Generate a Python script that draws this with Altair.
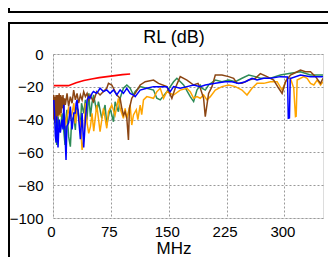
import altair as alt
import pandas as pd

# ---- data (MHz, dB) ----
blue_f = [1, 2, 3, 4, 5, 6.5, 8, 9.5, 11.7, 13, 13.9, 15, 16.9, 18, 20.3, 22.5, 23.5, 24.7, 27, 29,
          30, 31.2, 33, 35.5, 37.7, 39.8, 42, 44.2, 46.3, 48, 50.6, 52.4, 56.7, 61, 65.4, 69.7, 74, 78.4, 82.7, 87,
          91.3, 95.7, 100, 104.3, 106.5, 113, 121.6, 130.3, 139, 147.6, 151.9, 156.3, 164.9, 173.6, 182.3, 190.9,
          197.4, 210.4, 223, 232, 240.7, 249.4, 258, 264.5, 273.2, 281.8, 294.8, 304, 305, 306.5, 307.5, 320.8,
          333.8, 342.4, 350]
blue_db = [-28, -36, -50, -54, -38, -57, -40, -48, -40, -46, -31, -42, -64.6, -44, -42, -32, -40, -46, -36, -36,
           -30, -28, -38, -52, -36, -57, -40, -28, -26, -27, -24, -22.9, -24, -20.9, -22.9, -21.9, -24, -21.9, -25, -21.9,
           -24, -20.9, -24, -25, -26, -22, -20.9, -19.9, -19.9, -19.9, -23, -19.9, -20.9, -19.9, -18.9, -19.9,
           -18.9, -17.9, -16.9, -16.9, -17.9, -16.9, -14.8, -15.9, -14.8, -14.8, -13.8, -14, -39.2, -39, -15, -12.8,
           -13.8, -13.8, -13.8]

brown_f = [0, 0.5, 1, 1.5, 2, 2.5, 3, 3.5, 4, 4.5, 5, 5.5, 6, 6.5, 7, 7.5, 8, 8.5, 9, 9.5,
           10, 10.5, 11, 12, 13, 14, 15, 16, 17, 18.2, 20.3, 22.5, 24.7, 26.8, 29, 31.2, 33.3, 35.5, 37.7, 39.8,
           42, 44.2, 46.3, 48.1, 52.4, 56.7, 61, 65.4, 69.7, 71.9, 76.2, 78.4, 82.7, 87, 89.2, 91.3, 93.5, 95.7, 97.8, 99.1,
           102.1, 106.5, 113, 119.5, 130.3, 136.8, 147.6, 154.1, 158.4, 164.9, 173.6, 182.3, 188, 191, 195.2, 197.4,
           201.7, 206.1, 210.4, 219, 227.7, 234.2, 238.5, 245, 253.7, 262.3, 268.8, 277.5, 286.1, 292.6,
           297, 301.3, 307.8, 316.5, 320.8, 327.3, 333.8, 340.3, 346.8, 350]
brown_db = [-26, -40, -25, -38, -27, -42, -26, -36, -25, -40, -28, -35, -25, -38, -27, -33, -24, -37, -27, -34,
            -25, -36, -26, -33, -25, -35, -27, -31, -28, -24, -32, -26, -30, -22, -28, -24, -30, -25, -28, -23,
            -26, -24, -28, -25, -29.1, -22.9, -25, -22.9, -20.9, -17.9, -18.9, -20.9, -25, -27, -33.1, -37.2, -35.2, -39.2, -52.4, -33.1,
            -27, -24, -18.9, -16.9, -15.9, -17.9, -19.9, -27, -20.9, -13.8, -15.9, -18.9, -17.9, -20.9, -27, -38.2,
            -24, -19.9, -12.8, -12.8, -13.8, -14.8, -17.9, -17.9, -15.9, -14.8, -12, -13.8, -15.9, -20.9,
            -24, -16.9, -12.8, -10.8, -9.8, -10.8, -10.8, -13.8, -17.9, -14.8]

green_f = [0.9, 2, 3.9, 4.8, 6.5, 8, 9.5, 11.7, 13, 15.6, 16.5, 18, 20.3, 22.5, 23.8, 24.7, 27, 29, 30.5, 32.5,
           35.5, 37, 39.8, 42, 44, 46.3, 48.5, 50.5, 52.6, 56.7, 58.9, 63.2, 67.5, 69.7, 74, 78.4, 80.5, 84.8, 87, 91.3,
           95.7, 100, 104.3, 106.5, 113, 121.6, 130.3, 134.6, 139, 147.6, 156.3, 160.6, 169.3, 177.9, 182.3, 186.6,
           190.9, 193.1, 197.4, 201.7, 210.4, 219, 227.7, 236.4, 245, 253.7, 262.3, 268.8, 281.8, 294.8,
           307.8, 320.8, 333.8, 342.4, 350]
green_db = [-30.1, -36, -42.3, -55.5, -38, -44, -46.3, -36.2, -42, -55.5, -40.2, -34, -50.4, -56.5, -44, -40.2, -38, -46.3, -32, -34.1,
            -44.3, -30, -36.2, -28, -40, -24, -38.2, -30, -25, -35.2, -29.1, -39.2, -31.1, -43.3, -33.1, -41.3, -29.1, -35.2, -27, -20.9,
            -18.9, -20.9, -25, -22.9, -19.9, -20.9, -22, -27, -28, -23, -16.9, -14.8, -18.9, -26, -29, -22,
            -19, -20.9, -22, -18.9, -15.9, -16.9, -15.9, -16.9, -14.8, -12.8, -13.8, -14.8, -14.8, -12.8,
            -11.8, -10.8, -12.8, -12.8, -12.8]

orange_f = [0.9, 2.5, 4, 5.2, 7, 9.5, 11.5, 13.9, 16, 18.2, 20.3, 22, 24.7, 27, 29, 31, 33.3, 35.5, 37.7, 39.8,
            42, 44.2, 46.3, 48.5, 50.6, 52.8, 56.7, 58.9, 61, 65.4, 69.7, 71.9, 76.2, 80.5, 84.8, 87, 91.3, 93.5, 95.7, 100,
            102.1, 104.3, 108, 110, 113, 115, 117.3, 121.6, 130.3, 134.6, 139, 143.3, 147.6, 156.3, 164.9, 173.6, 177.9,
            182.3, 186.6, 190.9, 195.2, 199.6, 203.9, 210.4, 219, 227.7, 236.4, 245, 251.5, 258, 262.3, 264.5, 273.2,
            281.8, 290.5, 297, 303.5, 307.8, 312.1, 314.3, 315.2, 316.5, 325.1, 329.4, 333.8, 338.1, 342.4, 346.8, 350]
orange_db = [-32.1, -37, -30, -40.2, -34, -38.2, -30, -34.1, -44, -38.2, -32.1, -40, -36.2, -30, -42.3, -34, -38.2, -42.3, -58.5, -52.4,
             -30.1, -42.3, -48.4, -44.3, -36.2, -47, -31.1, -39.2, -47.4, -33.1, -45.3, -35.2, -31.1, -37.2, -27, -33.1, -39.2, -33.1, -39.2, -31.1,
             -43.3, -37.2, -34, -40, -31.1, -37, -28, -26, -27, -23, -20.9, -27, -23, -25, -22, -20.9, -23,
             -27, -26, -27, -25, -28, -26, -22, -19.9, -18.9, -19.9, -22, -25, -20.9, -18.9, -17.9, -17.9,
             -16.9, -16.9, -22, -14.8, -14.8, -20.9, -38.2, -38, -15.9, -13.8, -14.8, -17.9, -18.9, -15.9, -18.9, -16.9]

red_f = [1, 10, 20, 30, 40, 50, 60, 70, 80, 90, 100]
red_db = [-19.3, -19.3, -19.3, -17.5, -16.2, -15.2, -14.4, -13.8, -13.2, -12.6, -12.2]

x_ticks = [0, 75, 150, 225, 300]
y_ticks = [0, -20, -40, -60, -80, -100]
chart_title = "RL (dB)"
x_title = "MHz"

FONT = "Liberation Sans"


def frame(fs, ds):
    return pd.DataFrame({"f": fs, "db": ds, "i": list(range(len(fs)))})


xs = alt.Scale(domain=[0, 350], nice=False, zero=False)
ys = alt.Scale(domain=[-100, 0], nice=False, zero=False)

xaxis = alt.Axis(values=x_ticks, title=None, labelFontSize=15, labelFont=FONT, labelColor="black",
                 ticks=False, domain=False, grid=True, gridDash=[2, 2], gridColor="#999999", gridWidth=1,
                 labelPadding=6, labelFlush=False, labelOffset=-2, labelOverlap=False)
yaxis = alt.Axis(values=y_ticks, title=None, labelFontSize=15, labelFont=FONT, labelColor="black",
                 ticks=False, domain=False, grid=True, gridDash=[2, 2], gridColor="#999999", gridWidth=1,
                 labelPadding=10, labelOverlap=False)


def line(fs, ds, color, width=1.5):
    return alt.Chart(frame(fs, ds)).mark_line(color=color, strokeWidth=width, clip=True).encode(
        x=alt.X("f:Q", scale=xs, axis=xaxis),
        y=alt.Y("db:Q", scale=ys, axis=yaxis),
        order="i:Q",
    )


one = pd.DataFrame({"a": [0]})

frame_top = alt.Chart(one).mark_rule(color="black", strokeWidth=2).encode(
    x=alt.value(-46), x2=alt.value(300), y=alt.value(-31))
frame_left = alt.Chart(one).mark_rule(color="black", strokeWidth=2).encode(
    x=alt.value(-44), y=alt.value(-32), y2=alt.value(260))
prev_bottom = alt.Chart(one).mark_rule(color="black", strokeWidth=2).encode(
    x=alt.value(-46), x2=alt.value(300), y=alt.value(-42))
prev_left = alt.Chart(one).mark_rule(color="black", strokeWidth=2).encode(
    x=alt.value(-44), y=alt.value(-60), y2=alt.value(-41))

title_txt = alt.Chart(one).mark_text(text=chart_title, font=FONT, fontSize=18, color="black",
                                     align="center", baseline="alphabetic").encode(
    x=alt.value(121), y=alt.value(-11))
xtitle_txt = alt.Chart(one).mark_text(text=x_title, font=FONT, fontSize=17, color="black",
                                      align="center", baseline="alphabetic").encode(
    x=alt.value(121), y=alt.value(199.5))

chart = alt.layer(
    line(green_f, green_db, "#2E8B57"),
    line(orange_f, orange_db, "#FFA500"),
    line(brown_f, brown_db, "#8B4513"),
    line(blue_f, blue_db, "#0000FF"),
    line(red_f, red_db, "#FF0000", 1.6),
    frame_top, frame_left, prev_bottom, prev_left, title_txt, xtitle_txt,
).properties(
    width=270, height=164,
    autosize=alt.AutoSizeParams(type="none"),
    padding={"left": 45, "top": 46, "right": 5, "bottom": 39},
).configure_view(stroke="#888888", strokeWidth=1).configure(background="white")

chart.save("out.html", embed_options={"renderer": "svg", "actions": False})
